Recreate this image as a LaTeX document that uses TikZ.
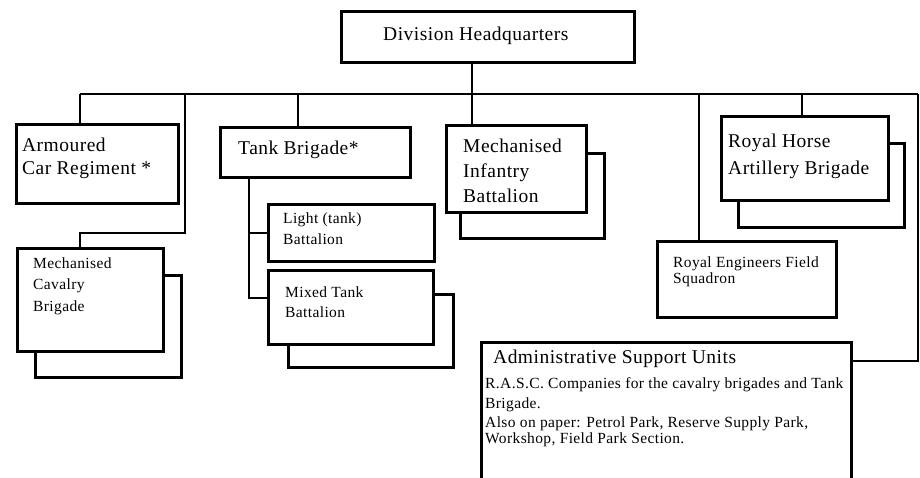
\documentclass[tikz,border=0pt]{standalone}
\usepackage{fontspec}
\setmainfont[LetterSpace=2.5]{Liberation Serif}
\begin{document}
\begin{tikzpicture}[x=1pt,y=-1pt,
  box/.style={draw=black,line width=2.6pt,fill=white,rectangle,inner sep=0pt,anchor=north west},
  conn/.style={draw=black,line width=2.6pt},
  big/.style={anchor=base west,inner sep=0pt,font=\fontsize{19.5}{24}\selectfont},
  small/.style={anchor=base west,inner sep=0pt,font=\fontsize{15.5}{19}\selectfont}]
\useasboundingbox (0,0) rectangle (920,478);
\clip (0,0) rectangle (920,478);
\fill[white] (0,0) rectangle (920,478);

% boxes: back (shadow) boxes first
\node[box,minimum width=144pt,minimum height=85pt] (infB) at (459,152) {};
\node[box,minimum width=166pt,minimum height=84pt] (rhaB) at (737,142) {};
\node[box,minimum width=146pt,minimum height=102pt] (cavB) at (34,274) {};
\node[box,minimum width=165pt,minimum height=73pt] (mixB) at (287,293) {};

\node[box,minimum width=293pt,minimum height=51pt] (hq) at (340,10) {};
\node[box,minimum width=162pt,minimum height=79pt] (arm) at (15,123) {};
\node[box,minimum width=190pt,minimum height=50pt] (tank) at (219,126) {};
\node[box,minimum width=140pt,minimum height=87pt] (inf) at (445,124) {};
\node[box,minimum width=167pt,minimum height=84pt] (rha) at (720,115) {};
\node[box,minimum width=146pt,minimum height=103pt] (cav) at (16,247) {};
\node[box,minimum width=166pt,minimum height=57pt] (light) at (267,203) {};
\node[box,minimum width=165pt,minimum height=74pt] (mix) at (267,269) {};
\node[box,minimum width=179pt,minimum height=76pt] (re) at (656,240) {};
\node[box,minimum width=370pt,minimum height=160pt] (adm) at (480,341) {};

% bus coordinates
\coordinate (busL) at (80,94);
\coordinate (busR) at (918,94);
\coordinate (hqx) at (472,94);
\coordinate (cavx) at (185,94);
\coordinate (tankx) at (298,94);
\coordinate (rex) at (699,94);
\coordinate (rhax) at (802,94);
\coordinate (tk) at (249,94);

% connectors
\draw[conn] (hq.south -| hqx) -- (inf.north -| hqx);
\draw[conn] (busL) -- (busR);
\draw[conn] (busL) -- (busL |- arm.north);
\draw[conn] (cavx) -- (185,233) -- (80,233) -- (cav.north -| busL);
\draw[conn] (tankx) -- (tank.north -| tankx);
\draw[conn] (tank.south -| tk) -- (tk |- 0,298) -- (mix.west |- 0,298);
\draw[conn] (tk |- 0,233) -- (light.west |- 0,233);
\draw[conn] (rex) -- (re.north -| rex);
\draw[conn] (rhax) -- (rha.north -| rhax);
\draw[conn] (busR) -- (busR |- 0,361) -- (adm.east |- 0,361);

% texts
\node[big] (thq) at (383,41) {Division Headquarters};
\node[big] (tarm1) at (22,152) {Armoured};
\node[big] (tarm2) at (22,175) {Car Regiment *};
\node[big] (ttank) at (238,155) {Tank Brigade*};
\node[big] (tinf1) at (463,153) {Mechanised};
\node[big] (tinf2) at (463,178) {Infantry};
\node[big] (tinf3) at (463,203) {Battalion};
\node[big] (trha1) at (728,148) {Royal Horse};
\node[big] (trha2) at (728,175) {Artillery Brigade};
\node[small] (tl1) at (283,224) {Light (tank)};
\node[small] (tl2) at (283,244) {Battalion};
\node[small] (tc1) at (33,268) {Mechanised};
\node[small] (tc2) at (33,289) {Cavalry};
\node[small] (tc3) at (33,311) {Brigade};
\node[small] (tm1) at (285,297) {Mixed Tank};
\node[small] (tm2) at (285,317) {Battalion};
\node[small] (tre1) at (673,267) {Royal Engineers Field};
\node[small] (tre2) at (673,283) {Squadron};
\node[big] (tad) at (493,363) {Administrative Support Units};
\node[small] (tb1) at (485,388) {R.A.S.C. Companies for the cavalry brigades and Tank};
\node[small] (tb2) at (485,408) {Brigade.};
\node[small] (tb3) at (485,427) {Also on paper: Petrol Park, Reserve Supply Park,};
\node[small] (tb4) at (485,443) {Workshop, Field Park Section.};
\end{tikzpicture}
\end{document}
